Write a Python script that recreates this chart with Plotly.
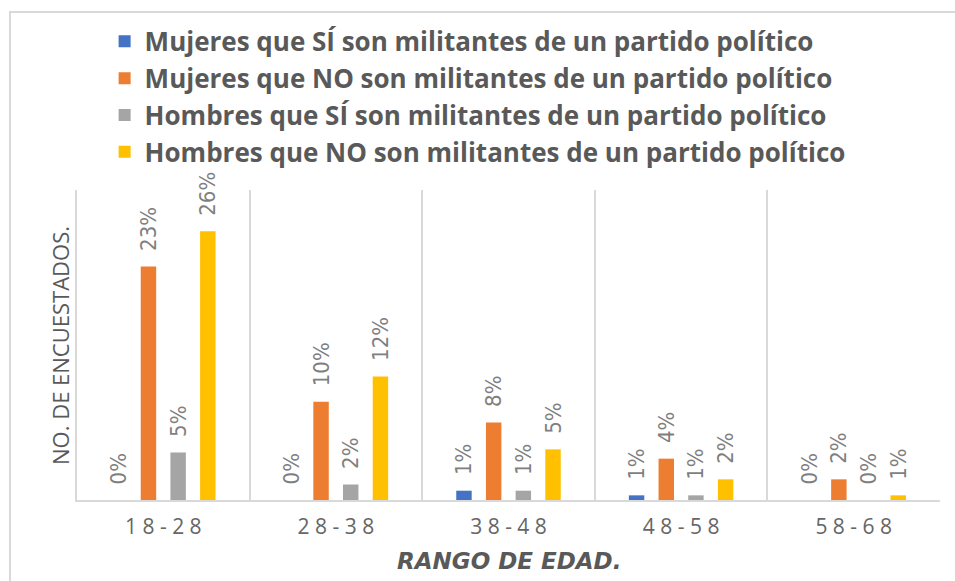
import plotly.graph_objects as go

categories = ["18-28", "28-38", "38-48", "48-58", "58-68"]
series_names = [
    "Mujeres que SÍ son militantes de un partido político",
    "Mujeres que NO son militantes de un partido político",
    "Hombres que SÍ son militantes de un partido político",
    "Hombres que NO son militantes de un partido político",
]
mujeres_si = [0.0, 0.0, 0.9, 0.45, 0.0]
mujeres_no = [22.6, 9.5, 7.5, 4.0, 2.0]
hombres_si = [4.6, 1.5, 0.9, 0.45, 0.0]
hombres_no = [26.0, 11.95, 4.9, 2.0, 0.45]

labels_mujeres_si = ["0%", "0%", "1%", "1%", "0%"]
labels_mujeres_no = ["23%", "10%", "8%", "4%", "2%"]
labels_hombres_si = ["5%", "2%", "1%", "1%", "0%"]
labels_hombres_no = ["26%", "12%", "5%", "2%", "1%"]

colors = ["#4472C4", "#ED7D31", "#A5A5A5", "#FFC000"]
values = [mujeres_si, mujeres_no, hombres_si, hombres_no]
labels = [labels_mujeres_si, labels_mujeres_no, labels_hombres_si, labels_hombres_no]

LABEL_FONT = "DejaVu Sans Condensed, sans-serif"
MAIN_FONT = "Open Sans, sans-serif"
PAD = "<span style='color:rgba(0,0,0,0)'>0</span>"

fig = go.Figure()
for i in range(4):
    fig.add_trace(go.Bar(
        x=categories,
        y=values[i],
        name=series_names[i],
        legendgroup=f"g{i}",
        marker=dict(color=colors[i], line=dict(width=0)),
        text=[PAD + t for t in labels[i]],
        textposition="outside",
        textangle=-90,
        constraintext="none",
        cliponaxis=False,
        textfont=dict(family=LABEL_FONT, size=22, color="#7f7f7f"),
        hoverinfo="skip",
    ))

fig.update_layout(
    width=955,
    height=581,
    margin=dict(l=77, r=15, t=190, b=81, autoexpand=False),
    paper_bgcolor="white",
    plot_bgcolor="white",
    barmode="group",
    bargap=0.312,
    bargroupgap=0.48,
    showlegend=True,
    legend=dict(
        x=0.032, xanchor="left",
        y=1.555, yanchor="top",
        orientation="v",
        traceorder="grouped",
        tracegroupgap=0,
        font=dict(family=MAIN_FONT, size=26, color="#595959", weight=700),
        bgcolor="rgba(0,0,0,0)",
        itemclick=False,
    ),
    xaxis=dict(
        type="category",
        tickson="boundaries",
        showgrid=True,
        gridcolor="#d9d9d9",
        gridwidth=1.5,
        showline=True,
        linecolor="#d9d9d9",
        linewidth=1.5,
        ticks="",
        tickmode="array",
        tickvals=categories,
        ticktext=[" ".join(c) for c in categories],
        tickfont=dict(family=MAIN_FONT, size=21, color="#666666"),
        ticklabelstandoff=7,
    ),
    yaxis=dict(
        range=[0, 30],
        showgrid=False,
        zeroline=False,
        showticklabels=False,
        ticks="",
        showline=True,
        linecolor="#d9d9d9",
        linewidth=1.5,
    ),
    annotations=[
        dict(text="NO. DE ENCUESTADOS.", xref="paper", yref="paper",
             x=-0.0197, y=0.5, xanchor="center", yanchor="middle",
             textangle=-90, showarrow=False,
             font=dict(family=MAIN_FONT, size=22, color="#595959")),
        dict(text="<b><i>RANGO DE EDAD.</i></b>", xref="paper", yref="paper",
             x=0.5, y=-0.197, xanchor="center", yanchor="middle",
             showarrow=False,
             font=dict(family="DejaVu Sans, sans-serif", size=23, color="#595959")),
    ],
    shapes=[
        dict(type="rect", xref="paper", yref="paper",
             x0=-0.0776, x1=1.03, y0=-0.3, y1=1.574,
             line=dict(color="#d9d9d9", width=2), fillcolor="rgba(0,0,0,0)",
             layer="below"),
    ],
)

fig.write_html("out.html", post_script="document.body.style.margin='0px';",
               config={"displayModeBar": False})
